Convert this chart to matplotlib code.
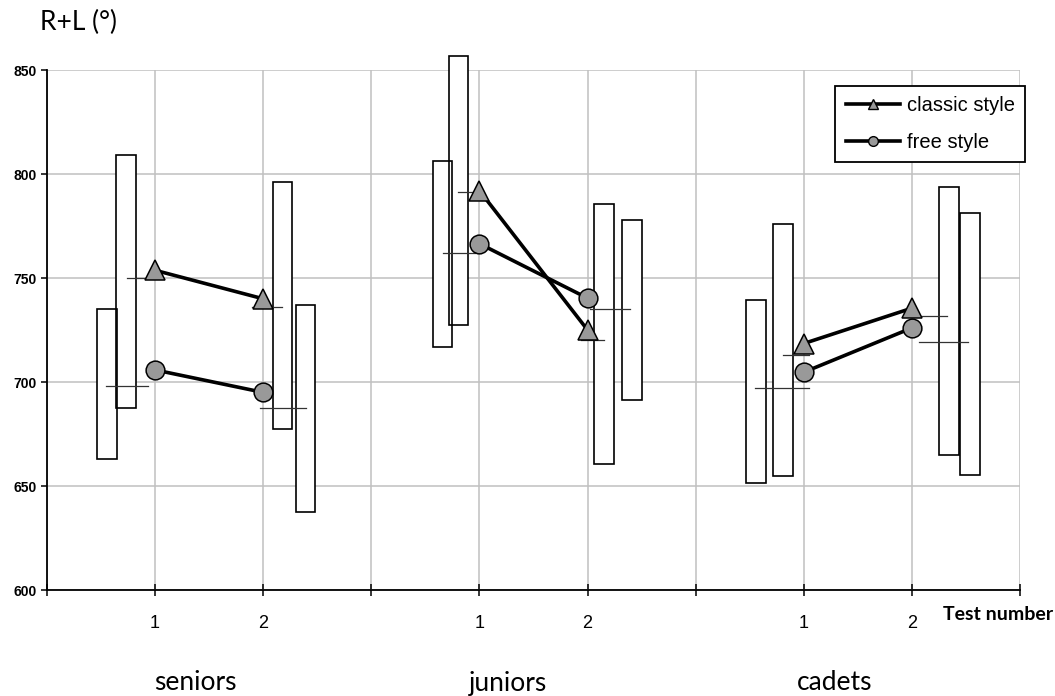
import matplotlib
matplotlib.use("Agg")
import matplotlib.pyplot as plt
from matplotlib.patches import Rectangle
from matplotlib.lines import Line2D

plt.rcParams['font.family'] = ['Liberation Sans', 'DejaVu Sans']

# data (values in degrees)
groups = ["seniors", "juniors", "cadets"]
tests = ["1", "2"]
classic = [753.7, 740.0, 792.0, 725.0, 718.5, 735.5]
free = [705.8, 695.0, 766.5, 740.3, 704.7, 726.0]
# two range boxes per group/test, with their mean marks
box_a_low = [663.2, 677.4, 716.6, 660.5, 651.4, 665.0]
box_a_high = [735.0, 796.0, 806.2, 785.8, 739.2, 793.8]
box_b_low = [687.5, 637.6, 727.5, 691.4, 654.9, 655.4]
box_b_high = [809.1, 736.8, 856.9, 778.1, 775.8, 781.3]
mean_a = [698.0, 736.0, 762.0, 720.0, 697.0, 731.5]
mean_b = [750.0, 687.3, 791.5, 735.0, 713.0, 719.0]

# layout: box centre offsets from the test position and mean line extents
off_a = [-0.444, 0.176, -0.343, 0.153, -0.444, 0.343]
off_b = [-0.269, 0.389, -0.194, 0.412, -0.194, 0.537]
span_a = [(-0.458, -0.062), (-0.102, 0.173), (-0.34, -0.037),
          (-0.065, 0.151), (-0.454, 0.046), (-0.056, 0.324)]
span_b = [(-0.262, 0.028), (-0.034, 0.392), (-0.2, 0.028),
          (0.021, 0.392), (-0.192, 0.049), (0.062, 0.521)]
bw = 0.18
label_x = [195, 508, 835]  # pixel centres of the group names

xpos = [3 * g + 1 + t for g in range(len(groups)) for t in range(len(tests))]

fig = plt.figure(figsize=(10.55, 6.96), dpi=100)
ax = fig.add_axes([47/1055, 106/696, 973/1055, 520/696])
ax.set_xlim(0, 9)
ax.set_ylim(600, 850)

ax.set_xticks(range(10))
ax.set_xticklabels([""] + (tests + [""]) * 3)
ax.set_yticks(range(600, 851, 50))
ax.grid(color="#c0c0c0", lw=1.1)
ax.set_axisbelow(True)
for s in ["top", "right"]:
    ax.spines[s].set_visible(False)
for s in ["left", "bottom"]:
    ax.spines[s].set_linewidth(1.3)
ax.tick_params(axis="x", direction="inout", length=8, width=1.1, labelsize=13, pad=14)
ax.tick_params(axis="y", direction="out", length=4.5, width=1.1, labelsize=10, pad=3)
for lbl in ax.get_yticklabels():
    lbl.set_fontweight("bold")

# boxes: fills first, then outlines so overlapping edges stay visible
for i, x in enumerate(xpos):
    for off, lo, hi in [(off_a[i], box_a_low[i], box_a_high[i]),
                        (off_b[i], box_b_low[i], box_b_high[i])]:
        ax.add_patch(Rectangle((x + off - bw/2, lo), bw, hi - lo, fc="white",
                               ec="none", zorder=2, clip_on=False))
for i, x in enumerate(xpos):
    for off, lo, hi in [(off_a[i], box_a_low[i], box_a_high[i]),
                        (off_b[i], box_b_low[i], box_b_high[i])]:
        ax.add_patch(Rectangle((x + off - bw/2, lo), bw, hi - lo, fc="none",
                               ec="black", lw=1.2, zorder=3, clip_on=False))
    for sp, m in [(span_a[i], mean_a[i]), (span_b[i], mean_b[i])]:
        ax.plot([x + sp[0], x + sp[1]], [m, m], color="#333333", lw=0.9, zorder=4)

for g in range(len(groups)):
    xs = xpos[2*g:2*g+2]
    ax.plot(xs, classic[2*g:2*g+2], color="black", lw=2.6, marker="^", ms=14,
            mfc="#999999", mec="black", mew=1.1, zorder=6)
    ax.plot(xs, free[2*g:2*g+2], color="black", lw=2.6, marker="o", ms=13.5,
            mfc="#999999", mec="black", mew=1.1, zorder=5)

handles = [Line2D([], [], color="black", lw=2.6, marker="^", ms=7, mfc="#999999", mec="black"),
           Line2D([], [], color="black", lw=2.6, marker="o", ms=7, mfc="#999999", mec="black")]
leg = ax.legend(handles, ["classic style", "free style"], loc="upper right",
                bbox_to_anchor=(1025/1055, 1 - 86/696), bbox_transform=fig.transFigure,
                borderaxespad=0, fancybox=False, framealpha=1, edgecolor="black",
                fontsize=14.5, handlelength=2.7, handletextpad=0.35, labelspacing=0.9,
                borderpad=0.5)
leg.get_frame().set_linewidth(1.3)
leg.set_zorder(10)

fig.text(40/1055, 1 - 22/696, "R+L (°)", family="Lato", fontsize=19, va="center", ha="left")
fig.text(998/1055, 1 - 615/696, "Test number", family="Lato", fontweight="bold",
         fontsize=14, va="center", ha="center")
for g, name in enumerate(groups):
    fig.text(label_x[g] / 1055, 1 - 683/696, name, family="Lato", fontsize=19,
             va="center", ha="center")

fig.savefig("out.png", dpi=100)
